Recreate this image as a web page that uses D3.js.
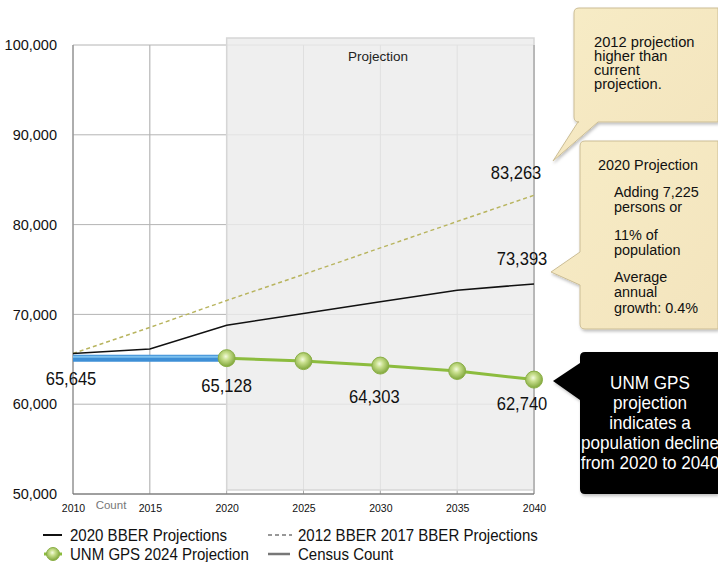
<!DOCTYPE html>
<html><head><meta charset="utf-8">
<script src="https://cdn.jsdelivr.net/npm/d3@7"></script>
<style>
body{margin:0;background:#fff;}
svg{display:block;font-family:"Liberation Sans",Arial,sans-serif;}
</style></head>
<body>
<svg id="chart" width="718" height="562"></svg>
<script>
const years = [2010, 2015, 2020, 2025, 2030, 2035, 2040];
const bber2020 = [65645, 66150, 68800, 70100, 71400, 72700, 73393];
const bber2012 = [65645, 68550, 71550, 74450, 77400, 80350, 83263];
const censusYears = [2010, 2020];
const census = [65128, 65128];
const unmYears = [2020, 2025, 2030, 2035, 2040];
const unm = [65128, 64800, 64303, 63700, 62740];
const yTicks = [50000, 60000, 70000, 80000, 90000, 100000];
const valueLabels = [
  {year: 2010, value: 65645, text: "65,645", dx: -2, dy: 31},
  {year: 2020, value: 65128, text: "65,128", dx: 0, dy: 34},
  {year: 2030, value: 64303, text: "64,303", dx: -6, dy: 37},
  {year: 2040, value: 62740, text: "62,740", dx: -12, dy: 30},
  {year: 2040, value: 83263, text: "83,263", dx: -18, dy: -16},
  {year: 2040, value: 73393, text: "73,393", dx: -12, dy: -19}
];

const svg = d3.select("#chart");
const x = d3.scaleLinear().domain([2010, 2040]).range([73, 534]);
const y = d3.scaleLinear().domain([50000, 100000]).range([494, 45]);

const defs = svg.append("defs");
const rg = defs.append("radialGradient").attr("id", "dot").attr("cx", "45%").attr("cy", "40%").attr("r", "60%");
rg.append("stop").attr("offset", "0%").attr("stop-color", "#f4fbe0");
rg.append("stop").attr("offset", "35%").attr("stop-color", "#c9e08e");
rg.append("stop").attr("offset", "100%").attr("stop-color", "#7fa63a");
const bg = defs.append("linearGradient").attr("id", "beige").attr("x1", 0).attr("x2", 1).attr("y1", 0).attr("y2", 1);
bg.append("stop").attr("offset", "0%").attr("stop-color", "#f7ecc6");
bg.append("stop").attr("offset", "100%").attr("stop-color", "#f3e4bd");
const sh = defs.append("filter").attr("id", "shadow").attr("x", "-10%").attr("y", "-10%").attr("width", "130%").attr("height", "130%");
sh.append("feDropShadow").attr("dx", 1).attr("dy", 2).attr("stdDeviation", 1.5).attr("flood-color", "#000").attr("flood-opacity", 0.25);

// grid
const grid = svg.append("g");
grid.selectAll("line.v").data(years).join("line")
  .attr("x1", d => x(d)).attr("x2", d => x(d)).attr("y1", y(100000)).attr("y2", y(50000))
  .attr("stroke", "#a8a8a8").attr("stroke-width", 1);
grid.selectAll("line.h").data(yTicks).join("line")
  .attr("x1", x(2010)).attr("x2", x(2040)).attr("y1", d => y(d)).attr("y2", d => y(d))
  .attr("stroke", "#b4b4b4").attr("stroke-width", 1);

// projection band
svg.append("rect").attr("x", x(2020)).attr("y", 38).attr("width", x(2040) - x(2020)).attr("height", 452)
  .attr("fill", "#ececec").attr("fill-opacity", 0.82).attr("stroke", "#d6d6d6").attr("stroke-width", 1.5);
svg.append("text").attr("x", (x(2025) + x(2030)) / 2 + 36).attr("y", 61).attr("text-anchor", "middle")
  .attr("font-size", 13.5).attr("fill", "#222").text("Projection");

// axes lines
svg.append("line").attr("x1", x(2010)).attr("x2", x(2010)).attr("y1", y(100000)).attr("y2", y(50000)).attr("stroke", "#888");
svg.append("line").attr("x1", x(2040)).attr("x2", x(2040)).attr("y1", y(100000)).attr("y2", y(50000)).attr("stroke", "#999");
svg.append("line").attr("x1", x(2010)).attr("x2", x(2040)).attr("y1", y(50000)).attr("y2", y(50000)).attr("stroke", "#666");

// y tick labels
const yAxis = d3.axisLeft(y).tickValues(yTicks).tickFormat(d3.format(",")).tickSize(0).tickPadding(16);
const ya = svg.append("g").attr("transform", `translate(${x(2010)},0)`).call(yAxis);
ya.select(".domain").remove();
ya.selectAll("text").attr("font-size", 14.5).attr("fill", "#111").attr("font-family", "Liberation Sans, Arial, sans-serif");

// x tick labels
const xAxis = d3.axisBottom(x).tickValues(years).tickFormat(d3.format("d")).tickSize(0).tickPadding(11);
const xa = svg.append("g").attr("transform", `translate(0,${y(50000)})`).call(xAxis);
xa.select(".domain").remove();
xa.selectAll("text").attr("font-size", 10.5).attr("fill", "#111").attr("font-family", "Liberation Sans, Arial, sans-serif");
svg.append("text").attr("x", 111).attr("y", 509).attr("text-anchor", "middle").attr("font-size", 11.5)
  .attr("fill", "#777").text("Count");

const line = d3.line().x(d => x(d[0])).y(d => y(d[1]));

// 2012 BBER dashed
svg.append("path").datum(years.map((yr, i) => [yr, bber2012[i]])).attr("d", line)
  .attr("fill", "none").attr("stroke", "#b8b45e").attr("stroke-width", 1.4).attr("stroke-dasharray", "4,3");
// 2020 BBER
svg.append("path").datum(years.map((yr, i) => [yr, bber2020[i]])).attr("d", line)
  .attr("fill", "none").attr("stroke", "#111").attr("stroke-width", 1.5);
// Census count bar
svg.append("path").datum(censusYears.map((yr, i) => [yr, census[i]])).attr("d", line)
  .attr("fill", "none").attr("stroke", "#3e8fd6").attr("stroke-width", 7);
svg.append("path").datum(censusYears.map((yr, i) => [yr, census[i]])).attr("d", line)
  .attr("fill", "none").attr("stroke", "#7cc0ee").attr("stroke-width", 2).attr("transform", "translate(0,-1.5)");
// UNM GPS
const unmData = unmYears.map((yr, i) => [yr, unm[i]]);
svg.append("path").datum(unmData).attr("d", line)
  .attr("fill", "none").attr("stroke", "#8cbc3e").attr("stroke-width", 3);
svg.selectAll("circle.unm").data(unmData).join("circle")
  .attr("cx", d => x(d[0])).attr("cy", d => y(d[1])).attr("r", 8.5)
  .attr("fill", "url(#dot)").attr("stroke", "#8aaf45").attr("stroke-width", 1);

// value labels
svg.selectAll("text.val").data(valueLabels).join("text")
  .attr("transform", d => `translate(${x(d.year) + d.dx},${y(d.value) + d.dy}) scale(0.92,1)`)
  .attr("text-anchor", "middle").attr("font-size", 18).attr("fill", "#111")
  .text(d => d.text);

function narrowText(sel, sx) {
  sel.attr("transform", d => `translate(${d.x},${d.y}) scale(${sx},1)`);
}

// top callout
svg.append("path")
  .attr("d", "M579,8 H718 V122 H598 L553,161 L578,122 H579 Q574,122 574,117 V13 Q574,8 579,8 Z")
  .attr("fill", "url(#beige)").attr("stroke", "#cbbd95").attr("stroke-width", 1).attr("filter", "url(#shadow)");
const t1 = ["2012 projection", "higher than", "current", "projection."].map((t, i) => ({t, x: 594, y: 47 + i * 14}));
svg.selectAll("text.c1").data(t1).join("text")
  .attr("font-size", 15).attr("fill", "#111").call(narrowText, 0.98).text(d => d.t);

// middle callout
svg.append("path")
  .attr("d", "M585,141 H718 V329 H585 Q580,329 580,324 V285 L551,272 L580,252 V146 Q580,141 585,141 Z")
  .attr("fill", "url(#beige)").attr("stroke", "#cbbd95").attr("stroke-width", 1).attr("filter", "url(#shadow)");
const t2 = [
  {t: "2020 Projection", x: 598, y: 170},
  {t: "Adding 7,225", x: 614, y: 197},
  {t: "persons or", x: 614, y: 212},
  {t: "11% of", x: 614, y: 240},
  {t: "population", x: 614, y: 255},
  {t: "Average", x: 614, y: 282},
  {t: "annual", x: 614, y: 297},
  {t: "growth: 0.4%", x: 614, y: 313}
];
svg.selectAll("text.c2").data(t2).join("text")
  .attr("font-size", 15.5).attr("fill", "#111").call(narrowText, 0.93).text(d => d.t);

// black callout
svg.append("path")
  .attr("d", "M585,352 H718 V494 H585 Q580,494 580,489 V400 L553,381 L580,363 V357 Q580,352 585,352 Z")
  .attr("fill", "#000").attr("filter", "url(#shadow)");
const t3 = ["UNM GPS", "projection", "indicates a", "population decline", "from 2020 to 2040"].map((t, i) => ({t, x: 650, y: 389 + i * 20}));
svg.selectAll("text.c3").data(t3).join("text")
  .attr("text-anchor", "middle").attr("font-size", 18).attr("fill", "#fff")
  .call(narrowText, 0.95).text(d => d.t);

// legend
const lg = svg.append("g").attr("font-size", 16).attr("fill", "#111");
lg.append("line").attr("x1", 43).attr("x2", 62).attr("y1", 535).attr("y2", 535).attr("stroke", "#111").attr("stroke-width", 2);
lg.append("text").attr("transform", "translate(70,541) scale(0.94,1)").text("2020 BBER Projections");
lg.append("line").attr("x1", 268).attr("x2", 292).attr("y1", 535).attr("y2", 535).attr("stroke", "#777").attr("stroke-width", 1.5).attr("stroke-dasharray", "4,3");
lg.append("text").attr("transform", "translate(298,541) scale(0.94,1)").text("2012 BBER 2017 BBER Projections");
lg.append("line").attr("x1", 44).attr("x2", 62).attr("y1", 554).attr("y2", 554).attr("stroke", "#8cbc3e").attr("stroke-width", 3);
lg.append("circle").attr("cx", 53).attr("cy", 554).attr("r", 6.5).attr("fill", "url(#dot)").attr("stroke", "#8aaf45");
lg.append("text").attr("transform", "translate(70,560) scale(0.94,1)").text("UNM GPS 2024 Projection");
lg.append("line").attr("x1", 268).attr("x2", 290).attr("y1", 554).attr("y2", 554).attr("stroke", "#777").attr("stroke-width", 2.5);
lg.append("text").attr("transform", "translate(298,560) scale(0.94,1)").text("Census Count");
</script>
</body></html>
